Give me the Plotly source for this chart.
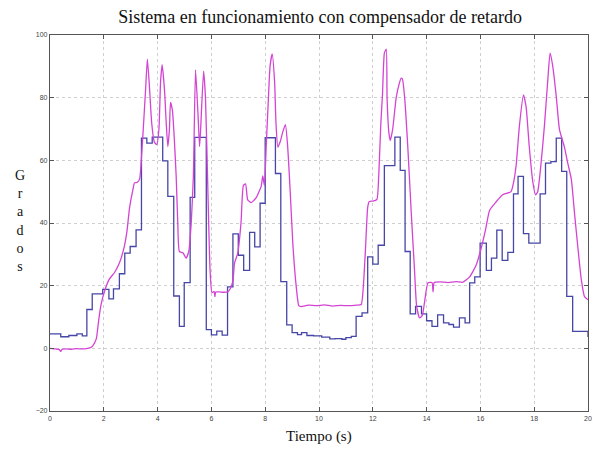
import plotly.graph_objects as go

# Reference (setpoint) staircase: step start times and values
ref_t = [0.0, 0.4, 0.7, 1.0, 1.2, 1.37, 1.57, 1.96, 2.19, 2.36, 2.58, 2.78, 2.98, 3.2, 3.4, 3.6, 3.8,
         4.19, 4.38, 4.6, 4.81, 4.99, 5.21, 5.38, 5.81, 6.0, 6.2, 6.4, 6.6, 6.8, 7.0, 7.2, 7.42, 7.61,
         7.81, 8.0, 8.38, 8.58, 8.8, 9.0, 9.2, 9.35, 9.55, 9.8, 10.1, 10.4, 10.6, 10.85, 11.0, 11.2,
         11.38, 11.6, 11.81, 12.0, 12.2, 12.43, 12.82, 13.02, 13.2, 13.39, 13.59, 13.81, 14.0, 14.2,
         14.41, 14.63, 14.83, 15.0, 15.22, 15.43, 15.6, 15.79, 15.99, 16.22, 16.41, 16.61, 16.81,
         17.02, 17.23, 17.4, 17.6, 17.8, 18.22, 18.42, 18.62, 18.82, 19.02, 19.21, 19.43, 20.0]
ref_v = [4.6, 3.7, 4.1, 4.6, 4.0, 12.4, 17.4, 18.8, 15.8, 19.0, 23.8, 30.4, 32.5, 37.8, 67.1, 65.5, 67.4,
         59.8, 48.5, 16.7, 7.0, 21.0, 48.2, 67.3, 6.0, 4.3, 5.5, 4.2, 19.6, 36.5, 29.7, 24.9, 37.0, 32.4,
         46.3, 67.2, 55.8, 21.3, 7.5, 5.0, 4.4, 5.0, 4.1, 4.0, 3.6, 3.0, 3.1, 2.9, 3.4, 3.8,
         10.2, 11.3, 29.2, 26.9, 32.9, 58.3, 67.4, 56.8, 30.9, 11.0, 13.4, 11.0, 8.8, 7.0, 10.7,
         8.1, 7.6, 6.8, 9.7, 8.1, 20.9, 22.8, 33.6, 24.9, 28.8, 37.7, 28.1, 30.6,
         49.3, 54.9, 36.6, 33.6, 49.3, 59.1, 59.6, 67.1, 56.5, 16.6, 5.4, 3.6, 3.7]

# Measured output (degrees) sampled along the curve
out_t = [0.0, 0.2, 0.35, 0.4, 0.45, 0.6, 0.8, 1.0, 1.2, 1.4, 1.5, 1.59, 1.72, 1.81, 1.9, 2.03, 2.2, 2.4,
         2.58, 2.77, 2.86, 2.96, 3.09, 3.14, 3.25, 3.33, 3.37, 3.45, 3.55, 3.62, 3.7, 3.78, 3.88, 3.97,
         4.05, 4.11, 4.17, 4.26, 4.32, 4.38, 4.44, 4.48, 4.55, 4.62, 4.69, 4.75, 4.81, 4.94, 5.06,
         5.16, 5.25, 5.33, 5.41, 5.5, 5.56, 5.6, 5.71, 5.78, 5.87, 5.95, 6.02, 6.1, 6.13, 6.16, 6.3,
         6.45, 6.61, 6.7, 6.8, 6.86, 6.98, 7.1, 7.19, 7.27, 7.35, 7.48, 7.66, 7.85, 7.91, 7.97, 8.04,
         8.11, 8.18, 8.26, 8.35, 8.4, 8.47, 8.56, 8.65, 8.75, 8.83, 8.93, 9.03, 9.15, 9.25, 9.33, 9.6,
         9.9, 10.2, 10.5, 10.8, 11.1, 11.4, 11.57, 11.65, 11.73, 11.81, 11.87, 12.0, 12.15, 12.22,
         12.3, 12.36, 12.43, 12.5, 12.53, 12.6, 12.65, 12.74, 12.87, 12.99, 13.05, 13.1, 13.18, 13.3,
         13.43, 13.55, 13.63, 13.74, 13.84, 13.92, 14.05, 14.2, 14.24, 14.28, 14.5, 14.8, 15.1, 15.35,
         15.6, 15.84, 16.03, 16.19, 16.34, 16.58, 16.83, 17.14, 17.23, 17.33, 17.45, 17.6, 17.7,
         17.82, 17.95, 18.05, 18.13, 18.26, 18.38, 18.5, 18.59, 18.69, 18.82, 18.94, 19.13, 19.25,
         19.38, 19.5, 19.62, 19.75, 19.87, 20.0]
out_v = [0.0, -0.2, -0.4, -1.0, -0.3, -0.2, -0.3, -0.1, -0.2, 0.0, 0.2, 0.8, 3.0, 9.0, 14.0, 18.3, 22.0,
         24.2, 27.2, 32.8, 37.3, 45.0, 51.0, 52.8, 53.0, 54.0, 57.0, 67.6, 82.0, 92.3, 83.0, 72.0,
         65.8, 65.0, 70.0, 85.0, 90.5, 82.0, 72.0, 64.4, 70.0, 78.5, 76.0, 67.0, 55.0, 40.0, 30.9,
         30.5, 28.8, 31.0, 40.0, 55.0, 88.9, 75.0, 64.4, 70.0, 88.5, 80.0, 50.0, 25.0, 17.8, 18.2,
         16.5, 18.0, 18.0, 17.9, 18.0, 19.0, 21.5, 27.2, 30.4, 40.0, 52.0, 52.5, 47.4, 46.5, 48.0,
         51.7, 55.0, 52.0, 65.0, 78.0, 90.0, 94.0, 85.0, 72.0, 64.2, 66.0, 69.0, 71.4, 65.0, 50.0,
         33.0, 20.0, 13.6, 13.3, 13.8, 13.6, 13.9, 13.5, 13.7, 13.6, 13.8, 14.0, 20.0, 32.0, 45.0,
         46.9, 47.0, 47.5, 55.0, 72.0, 81.0, 94.2, 95.5, 80.0, 68.7, 66.3, 70.0, 80.0, 84.7, 86.2,
         86.0, 80.4, 64.4, 43.2, 25.1, 13.4, 9.7, 10.5, 14.5, 20.9, 21.0, 18.0, 21.0, 21.2, 21.0,
         21.3, 21.1, 22.8, 26.5, 32.0, 37.8, 44.0, 46.7, 49.0, 50.0, 52.8, 58.5, 71.0, 80.9, 77.0,
         64.0, 53.0, 49.0, 50.0, 59.5, 71.0, 85.0, 94.2, 90.0, 80.4, 69.8, 64.0, 59.0, 54.0, 43.0,
         32.5, 22.0, 16.5, 15.5]

x_ticks = [0, 2, 4, 6, 8, 10, 12, 14, 16, 18, 20]
y_ticks = [-20, 0, 20, 40, 60, 80, 100]

fig = go.Figure()
fig.add_trace(go.Scatter(x=ref_t, y=ref_v, mode="lines", line=dict(color="#4646a6", width=1.3, shape="hv"),
                         showlegend=False, hoverinfo="skip"))
fig.add_trace(go.Scatter(x=out_t, y=out_v, mode="lines",
                         line=dict(color="#d444d4", width=1.3, shape="spline", smoothing=0.5),
                         showlegend=False, hoverinfo="skip"))

axis_common = dict(showgrid=True, gridcolor="#cfcfcf", griddash="dot", gridwidth=1,
                   showline=True, linecolor="#555555", linewidth=1.2, mirror="ticks",
                   ticks="inside", ticklen=4, tickcolor="#555555", automargin=False,
                   tickfont=dict(family="Arial, Liberation Sans, sans-serif", size=7, color="#444444"),
                   zeroline=False)

fig.update_xaxes(range=[0, 20], tickvals=x_ticks, **axis_common)
fig.update_yaxes(range=[-20, 100], tickvals=y_ticks, **axis_common)

fig.update_layout(
    width=595, height=450,
    margin=dict(l=50, r=7, t=35, b=39),
    paper_bgcolor="white", plot_bgcolor="white",
    title=dict(text="Sistema en funcionamiento con compensador de retardo",
               font=dict(family="Liberation Serif, Times New Roman, serif", size=18, color="#111111"),
               x=0.538, xanchor="center", y=0.962, yanchor="middle"),
    annotations=[
        dict(text="Tiempo (s)", xref="paper", yref="paper", x=0.5, y=-0.068, xanchor="center",
             yanchor="middle", showarrow=False,
             font=dict(family="Liberation Serif, Times New Roman, serif", size=15, color="#111111")),
        dict(text="G<br>r<br>a<br>d<br>o<br>s", xref="paper", yref="paper", x=-0.056, y=0.505,
             xanchor="center", yanchor="middle", showarrow=False, align="center",
             font=dict(family="Liberation Serif, Times New Roman, serif", size=14, color="#111111")),
    ],
)

fig.write_html("out.html", config={"displayModeBar": False},
               post_script="document.body.style.margin='0';")
